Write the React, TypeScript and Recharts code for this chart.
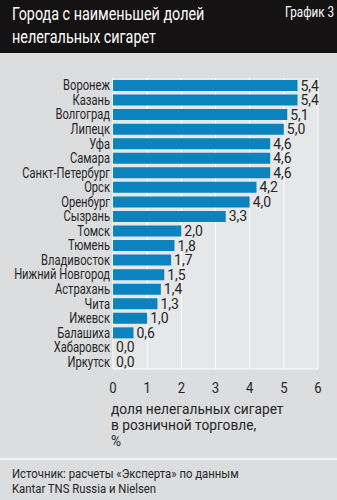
import { Bar, BarChart, CartesianGrid, LabelList, XAxis, YAxis } from "recharts";

const cities = [
  "Воронеж", "Казань", "Волгоград", "Липецк", "Уфа", "Самара", "Санкт-Петербург",
  "Орск", "Оренбург", "Сызрань", "Томск", "Тюмень", "Владивосток", "Нижний Новгород",
  "Астрахань", "Чита", "Ижевск", "Балашиха", "Хабаровск", "Иркутск",
];
const shares = [5.4, 5.4, 5.1, 5.0, 4.6, 4.6, 4.6, 4.2, 4.0, 3.3, 2.0, 1.8, 1.7, 1.5, 1.4, 1.3, 1.0, 0.6, 0.0, 0.0];
const ticks = [0, 1, 2, 3, 4, 5, 6];

const data = cities.map((city, i) => ({ city, value: shares[i] }));

const font = "Roboto, 'Noto Sans', sans-serif";
const ink = "#262626";

const comma = (v: unknown) => Number(v).toFixed(1).replace(".", ",");

// the installed fonts have no narrow face, so text is squeezed horizontally
function CityTick({ x, y, payload }: any) {
  return (
    <text transform={`translate(${x - 3},${y}) scale(0.8,1)`} textAnchor="end" dy="0.36em"
      fill={ink} fontSize={14} fontFamily={font}>
      {payload.value}
    </text>
  );
}

function NumTick({ x, y, payload }: any) {
  return (
    <text transform={`translate(${x},${y}) scale(0.9,1)`} textAnchor="middle" dy="0.71em"
      fill={ink} fontSize={14.5} fontFamily={font}>
      {payload.value}
    </text>
  );
}

function ValueLabel({ x, y, width, height, value }: any) {
  const lx = Number(x) + Number(width) + 3;
  const ly = Number(y) + Number(height) / 2;
  return (
    <text transform={`translate(${lx},${ly})`} dy="0.36em" fill={ink} fontSize={14} fontFamily={font}>
      {comma(value)}
    </text>
  );
}

const narrow = (s: number): any => ({ transform: `scaleX(${s})`, transformOrigin: "left top", whiteSpace: "nowrap", width: 320 });

export default function App() {
  return (
    <div style={{ position: "relative", width: 337, height: 500, background: "#dcdddf", fontFamily: font, overflow: "hidden" }}>
      <style>{"body{margin:0}"}</style>
      <div style={{ position: "absolute", left: 0, top: 0, width: 337, height: 53, background: "#151213", color: "#fff" }}>
        <div style={{ position: "absolute", left: 12, top: 2.5, fontSize: 17.5, lineHeight: "23px", ...narrow(0.82) }}>
          Города с наименьшей долей<br />нелегальных сигарет
        </div>
        <div style={{ position: "absolute", left: 285, top: 4, fontSize: 14, ...narrow(0.83) }}>График 3</div>
      </div>
      <div style={{ position: "absolute", left: 0, top: 53 }}>
        <BarChart width={337} height={345} data={data} layout="vertical" margin={{ top: 25, right: 19, bottom: 0, left: 113 }}>
          <CartesianGrid horizontal={false} stroke="#ffffff" fill="#e6e7e9" />
          <XAxis type="number" domain={[0, 6]} ticks={ticks} height={29} tickLine={false} axisLine={{ stroke: "#fff" }}
            tickMargin={8} tick={<NumTick />} />
          <YAxis type="category" dataKey="city" mirror width={1} tickSize={0} tickMargin={0} tickLine={false} axisLine={false}
            tick={<CityTick />} interval={0} />
          <Bar dataKey="value" fill="#0a83bf" barSize={11} minPointSize={(v: number) => (v === 0 ? 0.01 : 0)} isAnimationActive={false}>
            <LabelList dataKey="value" content={<ValueLabel />} />
          </Bar>
        </BarChart>
      </div>
      <div style={{ position: "absolute", left: 111, top: 401, fontSize: 14, lineHeight: "16px", color: ink, ...narrow(0.98) }}>
        доля нелегальных сигарет<br />в розничной торговле,<br />%
      </div>
      <div style={{ position: "absolute", left: 0, top: 458, width: 337, height: 2, background: "#f4f4f4" }} />
      <div style={{ position: "absolute", left: 12, top: 466, fontSize: 13.5, lineHeight: "14.5px", color: ink, ...narrow(0.84) }}>
        Источник: расчеты «Эксперта» по данным<br />Kantar TNS Russia и Nielsen
      </div>
    </div>
  );
}
